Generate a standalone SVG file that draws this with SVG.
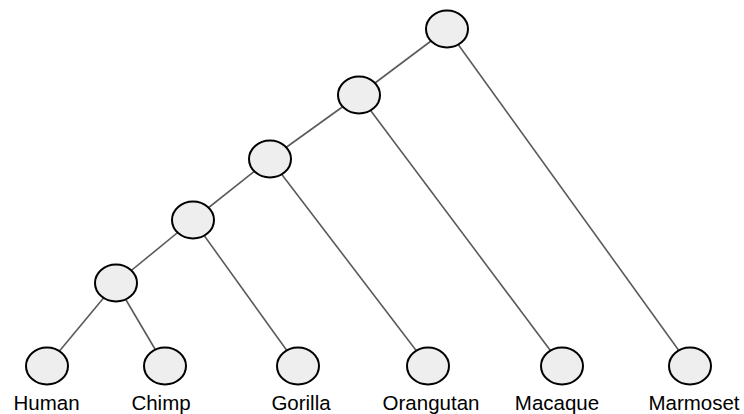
<svg xmlns="http://www.w3.org/2000/svg" width="744" height="414" viewBox="0 0 744 414">
  <style>
    .edge { stroke: #5a5a5a; stroke-width: 1.6; fill: none; }
    .node ellipse { fill: #eeeeee; stroke: #000000; stroke-width: 2; }
    .label { font-family: "Liberation Sans", Arial, sans-serif; font-size: 20.5px; fill: #000000; text-anchor: middle; }
  </style>
  <rect width="744" height="414" fill="#ffffff"/>
  <g id="edges">
    <line class="edge" x1="447" y1="29" x2="359" y2="95"/>
    <line class="edge" x1="447" y1="29" x2="690" y2="366"/>
    <line class="edge" x1="359" y1="95" x2="270" y2="159"/>
    <line class="edge" x1="359" y1="95" x2="562" y2="366"/>
    <line class="edge" x1="270" y1="159" x2="193" y2="220"/>
    <line class="edge" x1="270" y1="159" x2="428" y2="366"/>
    <line class="edge" x1="193" y1="220" x2="116" y2="283"/>
    <line class="edge" x1="193" y1="220" x2="298" y2="366"/>
    <line class="edge" x1="116" y1="283" x2="47" y2="366"/>
    <line class="edge" x1="116" y1="283" x2="165" y2="366"/>
  </g>
  <g id="root" class="node"><ellipse cx="447" cy="29" rx="21" ry="18.5"/></g>
  <g id="n2" class="node"><ellipse cx="359" cy="95" rx="21" ry="18.5"/></g>
  <g id="n3" class="node"><ellipse cx="270" cy="159" rx="21" ry="18.5"/></g>
  <g id="n4" class="node"><ellipse cx="193" cy="220" rx="21" ry="18.5"/></g>
  <g id="n5" class="node"><ellipse cx="116" cy="283" rx="21" ry="18.5"/></g>
  <g id="human" class="node">
    <ellipse cx="47" cy="366" rx="21" ry="18.5"/>
    <text class="label" x="46.5" y="410">Human</text>
  </g>
  <g id="chimp" class="node">
    <ellipse cx="165" cy="366" rx="21" ry="18.5"/>
    <text class="label" x="161" y="410">Chimp</text>
  </g>
  <g id="gorilla" class="node">
    <ellipse cx="298" cy="366" rx="21" ry="18.5"/>
    <text class="label" x="301" y="410">Gorilla</text>
  </g>
  <g id="orangutan" class="node">
    <ellipse cx="428" cy="366" rx="21" ry="18.5"/>
    <text class="label" x="431" y="410">Orangutan</text>
  </g>
  <g id="macaque" class="node">
    <ellipse cx="562" cy="366" rx="21" ry="18.5"/>
    <text class="label" x="557" y="410">Macaque</text>
  </g>
  <g id="marmoset" class="node">
    <ellipse cx="690" cy="366" rx="21" ry="18.5"/>
    <text class="label" x="694" y="410">Marmoset</text>
  </g>
</svg>
